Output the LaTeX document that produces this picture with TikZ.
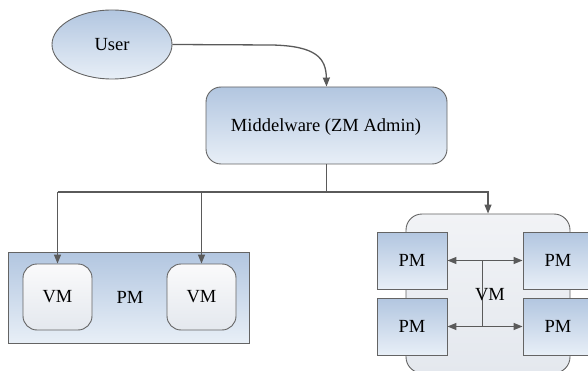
\documentclass[tikz,border=0pt]{standalone}
\usepackage{fontspec}
\setmainfont{Liberation Serif}
\newfontfamily\labelfont{Liberation Serif}
\usetikzlibrary{shapes.geometric,arrows.meta,calc}

\definecolor{bluetop}{RGB}{178,198,224}
\definecolor{bluebot}{RGB}{232,239,247}
\definecolor{greytop}{RGB}{250,250,251}
\definecolor{greybot}{RGB}{228,232,238}
\definecolor{edge}{RGB}{100,100,100}
\definecolor{wire}{RGB}{90,90,90}

\tikzset{
  x=1pt, y=-1pt,
  every node/.style={font=\labelfont\fontsize{18.5}{20}\selectfont, inner sep=0pt},
  bluebox/.style={draw=edge, line width=0.9pt, top color=bluetop, bottom color=bluebot},
  greybox/.style={draw=edge, line width=0.9pt, top color=greytop, bottom color=greybot},
  wirestyle/.style={draw=wire, line width=1.3pt},
  arr/.style={wirestyle, -{Triangle[length=9pt,width=7pt]}},
  dblarr/.style={wirestyle, {Triangle[length=9pt,width=7pt]}-{Triangle[length=9pt,width=7pt]}},
}

\begin{document}
\begin{tikzpicture}
\useasboundingbox (0,0) rectangle (588,371);

% user and middleware
\node[bluebox, ellipse, minimum width=120pt, minimum height=69pt] (U) at (112,44.5) {User};
\node[bluebox, rectangle, rounded corners=15pt, minimum width=241pt, minimum height=77pt] (M) at (326.5,125.5) {};
\node at (326,127) {Middelware (ZM Admin)};

% physical machine hosting two virtual machines
\node[bluebox, rectangle, minimum width=241pt, minimum height=91pt] (PM) at (128.5,297.5) {};
\node at (130,297) {PM};
\node[greybox, rectangle, rounded corners=14pt, minimum width=69pt, minimum height=66pt] (V1) at (57.5,297) {VM};
\node[greybox, rectangle, rounded corners=14pt, minimum width=69pt, minimum height=66pt] (V2) at (201.5,297) {VM};

% virtual machine spanning four physical machines
\node[draw=edge, line width=0.9pt, top color=greytop!60!greybot, bottom color=greybot, rectangle, rounded corners=16pt, minimum width=164pt, minimum height=159pt] (C) at (488,293.5) {};
\node[bluebox, rectangle, minimum width=70pt, minimum height=57pt] (P1) at (412,260.5) {PM};
\node[bluebox, rectangle, minimum width=70pt, minimum height=57pt] (P2) at (558,260.5) {PM};
\node[bluebox, rectangle, minimum width=70pt, minimum height=57pt] (P3) at (412,326.5) {PM};
\node[bluebox, rectangle, minimum width=70pt, minimum height=57pt] (P4) at (558,326.5) {PM};

% connectors
\coordinate (bend) at (272,45);
\draw[arr] (U.east) -- (bend) .. controls (316,46) and (326,58) .. (M.south |- M.north);
\coordinate (bus) at (0,192);
\draw[wirestyle] (M.south) -- (M.south |- bus);
\draw[arr] (V1.north |- bus) -- (V1.north);
\draw[arr] (V2.north |- bus) -- (V2.north);
\draw[arr] (V1.north |- bus) -| (C.north);

\draw[dblarr] (P1.east) -- (P2.west);
\draw[dblarr] (P3.east) -- (P4.west);
\coordinate (tA) at ($(P1.east)!0.47!(P2.west)$);
\coordinate (tB) at ($(P3.east)!0.47!(P4.west)$);
\draw[wirestyle] (tA) -- (tB);
\node at (490,295) {VM};
\end{tikzpicture}
\end{document}
